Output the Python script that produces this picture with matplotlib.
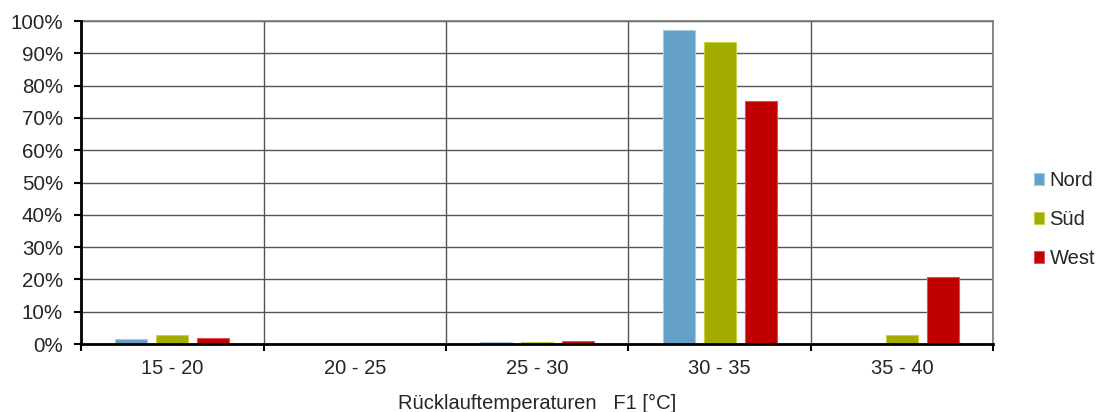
import matplotlib
matplotlib.use("Agg")
import matplotlib.pyplot as plt
import numpy as np
from matplotlib.ticker import PercentFormatter

plt.rcParams['font.family'] = ['Liberation Sans', 'DejaVu Sans']

categories = ["15 - 20", "20 - 25", "25 - 30", "30 - 35", "35 - 40"]
series_names = ["Nord", "Süd", "West"]
nord = [1.5, 0.0, 0.6, 97.2, 0.0]
sued = [2.8, 0.0, 0.5, 93.4, 2.7]
west = [2.0, 0.0, 1.0, 75.2, 20.8]
colors = ["#65a0c8", "#a3ad00", "#c00000"]
edges = ["#a9cce6", "#c8d04a", "#e05050"]

fig = plt.figure(figsize=(10.98, 4.12), dpi=100)
ax = fig.add_axes([0.0738, 0.165, 0.831, 0.784])

x = np.arange(len(categories))
width = 0.175
offsets = [-0.224, 0.0, 0.224]
for vals, name, c, ec, off in zip([nord, sued, west], series_names, colors, edges, offsets):
    ax.bar(x + off, vals, width, color=c, edgecolor=ec, linewidth=0.8, label=name, zorder=3)

ax.set_xlim(-0.5, len(categories) - 0.5)
ax.set_ylim(0, 100)
ax.set_yticks(np.arange(0, 101, 10))
ax.yaxis.set_major_formatter(PercentFormatter(decimals=0))
ax.set_xticks(x)
ax.set_xticklabels(categories)
ax.set_xticks(np.arange(-0.5, len(categories), 1), minor=True)
ax.tick_params(axis='x', which='major', length=0, pad=11, labelsize=14.5, colors='#262626')
ax.tick_params(axis='x', which='minor', length=5, width=1.5, direction='out', color='black')
ax.tick_params(axis='y', length=5, width=1.5, direction='out', pad=8, labelsize=14.8,
               colors='black', labelcolor='#262626')

ax.grid(axis='y', color='#555555', linewidth=1.0, zorder=0)
ax.grid(axis='x', which='minor', color='#555555', linewidth=1.0, zorder=0)
ax.grid(axis='x', which='major', visible=False)

ax.spines['left'].set_linewidth(2)
ax.spines['bottom'].set_linewidth(2)
ax.spines['left'].set_zorder(4)
ax.spines['bottom'].set_zorder(4)
ax.spines['top'].set_color('#777777')
ax.spines['right'].set_color('#777777')
ax.spines['top'].set_linewidth(1.2)
ax.spines['right'].set_linewidth(1.2)

ax.set_xlabel("Rücklauftemperaturen   F1 [°C]", fontsize=14.5, color='#262626', labelpad=11)

ax.legend(loc='center left', bbox_to_anchor=(1.025, 0.385), frameon=False, fontsize=14.5,
          handlelength=0.5, handleheight=0.5, handletextpad=0.25, labelspacing=1.0,
          labelcolor='#262626')

plt.savefig("out.png", dpi=100)
